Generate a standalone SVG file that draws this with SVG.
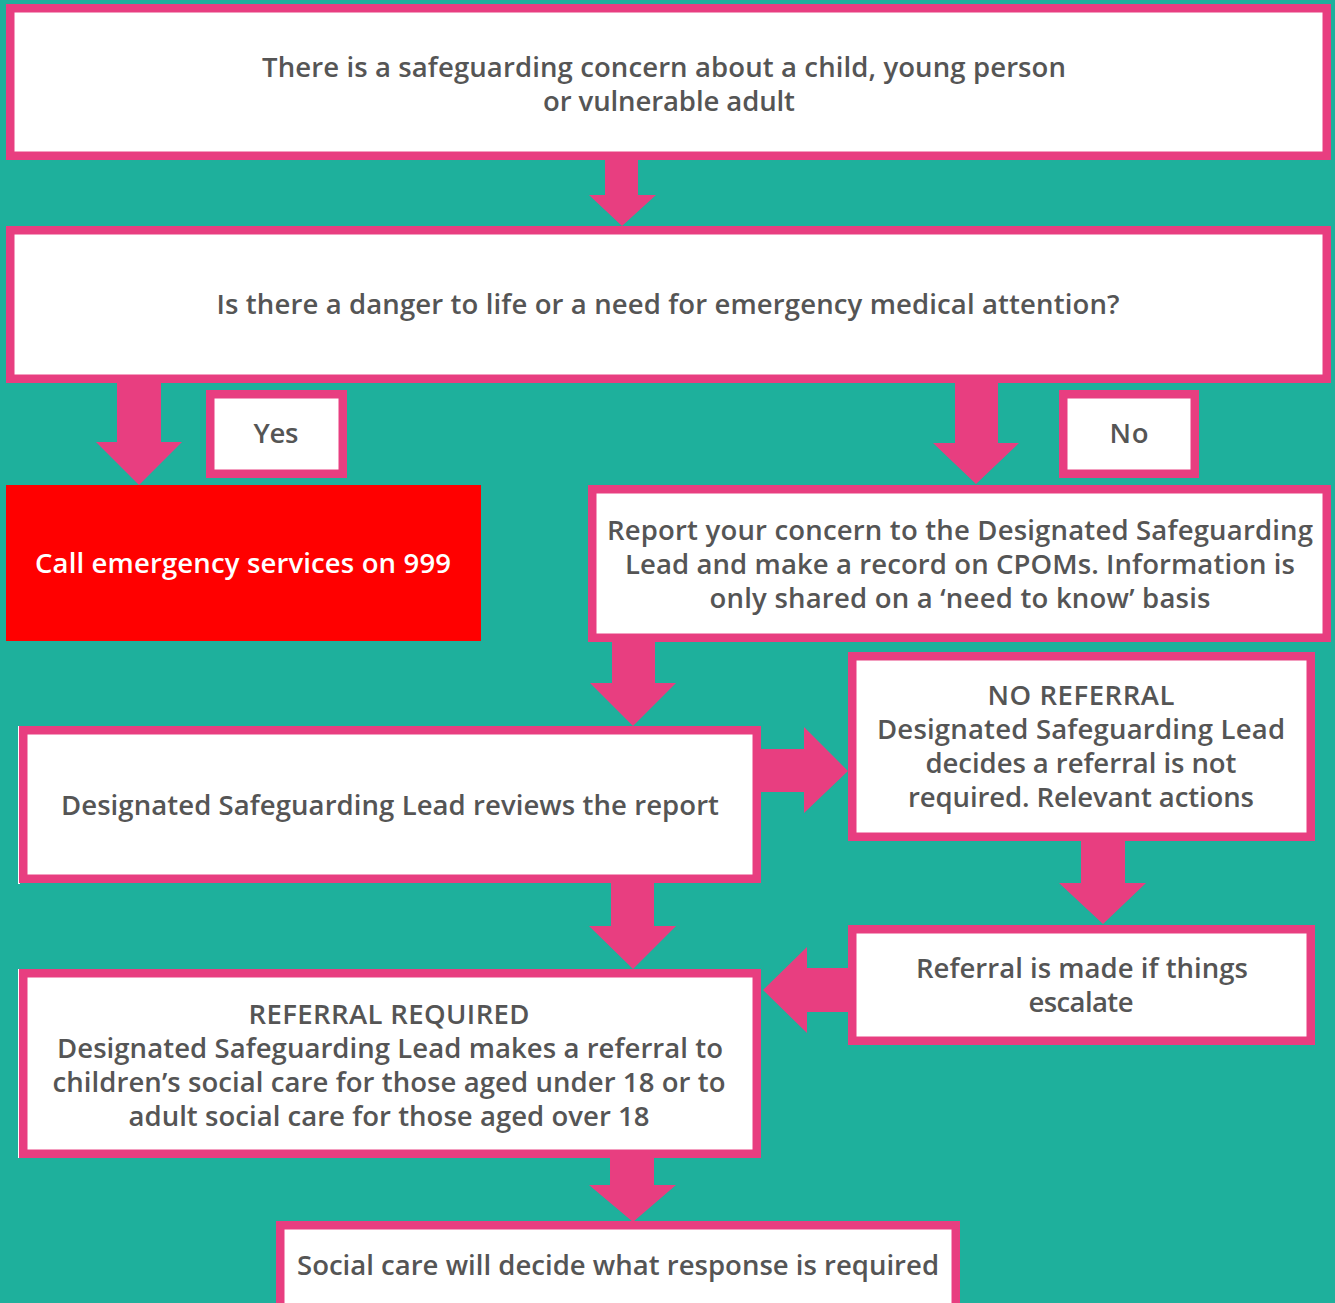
<svg xmlns="http://www.w3.org/2000/svg" width="1335" height="1303" viewBox="0 0 1335 1303">
<style>
.box{fill:#ffffff;stroke:#e83e80;stroke-width:8.5}
.arr{fill:#e83e80}
.t{font-family:"Open Sans","Noto Sans","Liberation Sans",sans-serif;font-size:27.5px;font-weight:600;fill:#555555;text-anchor:middle}
.w{fill:#ffffff}
</style>
<rect x="0" y="0" width="1335" height="1303" fill="#1eb09c"/>
<g id="connectors">
<polygon class="arr" points="605,158 638,158 638,195 656,195 622,226 589,195 605,195"/>
<polygon class="arr" points="117,380 161,380 161,442 182,442 139,485 96,442 117,442"/>
<polygon class="arr" points="955,380 998,380 998,443 1019,443 976,484 933,443 955,443"/>
<polygon class="arr" points="612,640 655,640 655,683 676,683 633,726 590,683 612,683"/>
<polygon class="arr" points="758,749 804,749 804,727 848,771 804,813 804,792 758,792"/>
<polygon class="arr" points="1081,838 1125,838 1125,883 1146,883 1103,924 1059,883 1081,883"/>
<polygon class="arr" points="851,968 807,968 807,947 763,990 807,1033 807,1012 851,1012"/>
<polygon class="arr" points="611,880 654,880 654,926 676,926 633,969 589,926 611,926"/>
<polygon class="arr" points="610,1155 654,1155 654,1185 676,1185 633,1222 589,1185 610,1185"/>
</g>
<g id="n1">
<rect class="box" x="10.25" y="8.25" width="1316.5" height="147.5"/>
<text class="t" x="664" y="77" textLength="804">There is a safeguarding concern about a child, young person</text>
<text class="t" x="669" y="111" textLength="252">or vulnerable adult</text>
</g>
<g id="n2">
<rect class="box" x="10.25" y="230.25" width="1316.5" height="148.5"/>
<text class="t" x="668" y="314" textLength="903">Is there a danger to life or a need for emergency medical attention?</text>
</g>
<g id="yes">
<rect class="box" x="210.25" y="394.25" width="132.5" height="79.5"/>
<text class="t" x="276" y="443" textLength="45">Yes</text>
</g>
<g id="no">
<rect class="box" x="1063.25" y="394.25" width="131.5" height="79.5"/>
<text class="t" x="1129" y="443" textLength="39">No</text>
</g>
<g id="emergency">
<rect x="6" y="485" width="475" height="156" fill="#ff0000"/>
<text class="t w" x="243" y="573" textLength="416">Call emergency services on 999</text>
</g>
<g id="report">
<rect class="box" x="592.25" y="489.25" width="734.5" height="148.5"/>
<text class="t" x="960" y="540" textLength="706">Report your concern to the Designated Safeguarding</text>
<text class="t" x="960" y="574" textLength="670">Lead and make a record on CPOMs. Information is</text>
<text class="t" x="960" y="608" textLength="501">only shared on a ‘need to know’ basis</text>
</g>
<g id="review">
<rect x="18" y="726" width="2" height="158" fill="#ffffff"/>
<rect class="box" x="23.25" y="730.25" width="733.5" height="148.5"/>
<text class="t" x="390" y="815" textLength="658">Designated Safeguarding Lead reviews the report</text>
</g>
<g id="noreferral">
<rect class="box" x="852.25" y="656.25" width="458.5" height="180.5"/>
<text class="t" x="1081" y="705" textLength="187">NO REFERRAL</text>
<text class="t" x="1081" y="739" textLength="408">Designated Safeguarding Lead</text>
<text class="t" x="1081" y="773" textLength="311">decides a referral is not</text>
<text class="t" x="1081" y="807" textLength="346">required. Relevant actions</text>
</g>
<g id="escalate">
<rect class="box" x="852.25" y="929.25" width="458.5" height="111.5"/>
<text class="t" x="1082" y="978" textLength="332">Referral is made if things</text>
<text class="t" x="1081" y="1012" textLength="105">escalate</text>
</g>
<g id="referral">
<rect x="18" y="969" width="2" height="189" fill="#ffffff"/>
<rect class="box" x="23.25" y="973.25" width="733.5" height="180.5"/>
<text class="t" x="389" y="1024" textLength="281">REFERRAL REQUIRED</text>
<text class="t" x="390" y="1058" textLength="666">Designated Safeguarding Lead makes a referral to</text>
<text class="t" x="389" y="1092" textLength="673">children’s social care for those aged under 18 or to</text>
<text class="t" x="389" y="1126" textLength="521">adult social care for those aged over 18</text>
</g>
<g id="socialcare">
<rect class="box" x="280.25" y="1225.25" width="675.5" height="85"/>
<text class="t" x="618" y="1275" textLength="642">Social care will decide what response is required</text>
</g>
</svg>
